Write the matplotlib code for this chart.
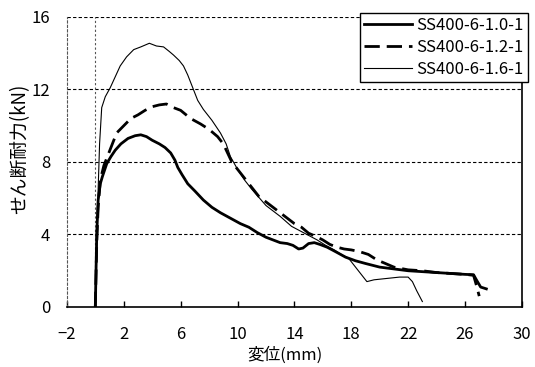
import matplotlib
matplotlib.use("Agg")
import matplotlib.pyplot as plt

plt.rcParams['font.family'] = ['Noto Sans CJK JP', 'DejaVu Sans']

# SS400-6-1.0-1 (thick solid)
x_10 = [0, 0.05, 0.1, 0.2, 0.35, 0.5, 0.8, 1.1, 1.4, 1.8, 2.3, 2.8, 3.2, 3.6, 4.0, 4.5,
        4.9, 5.3, 5.6, 5.8, 6.1, 6.5, 7.0, 7.6, 8.2, 8.8, 9.5, 10.2, 10.8, 11.4, 12.0,
        12.5, 13.0, 13.5, 13.9, 14.3, 14.6, 15.0, 15.4, 15.8, 16.3, 16.9, 17.6, 18.3,
        19.0, 20.0, 21.0, 22.0, 23.0, 24.0, 25.0, 26.0, 26.6, 26.8, 27.1, 27.5]
y_10 = [0, 2.0, 4.0, 5.9, 6.8, 7.2, 7.9, 8.3, 8.65, 9.0, 9.3, 9.45, 9.5, 9.4, 9.2, 9.0,
        8.8, 8.5, 8.1, 7.7, 7.3, 6.8, 6.4, 5.9, 5.5, 5.2, 4.9, 4.6, 4.4, 4.1, 3.85,
        3.7, 3.55, 3.5, 3.4, 3.2, 3.25, 3.5, 3.55, 3.45, 3.3, 3.05, 2.75, 2.55,
        2.4, 2.2, 2.1, 2.0, 1.95, 1.9, 1.85, 1.8, 1.78, 1.5, 1.1, 1.0]

# SS400-6-1.2-1 (dashed)
x_12 = [0, 0.1, 0.2, 0.35, 0.6, 1.0, 1.5, 2.0, 2.5, 3.0, 3.5, 4.0, 4.5, 5.0, 5.5, 6.0,
        6.7, 7.4, 8.0, 8.6, 9.0, 9.3, 9.6, 10.0, 10.5, 11.0, 11.5, 12.0, 12.5, 13.0,
        13.5, 14.0, 14.5, 15.0, 15.5, 16.0, 16.5, 17.0, 17.5, 18.0, 18.6, 19.2, 19.8,
        20.4, 21.0, 22.0, 23.0, 24.0, 25.0, 26.0, 26.6, 26.8, 27.0]
y_12 = [0, 3.5, 5.5, 7.0, 7.8, 8.6, 9.6, 10.0, 10.4, 10.6, 10.85, 11.05, 11.15, 11.2, 11.0, 10.85,
        10.4, 10.1, 9.8, 9.4, 9.0, 8.5, 8.0, 7.6, 7.1, 6.6, 6.1, 5.8, 5.5, 5.2,
        4.9, 4.6, 4.4, 4.07, 3.9, 3.7, 3.45, 3.3, 3.2, 3.15, 3.05, 2.9, 2.6,
        2.4, 2.2, 2.05, 2.0, 1.9, 1.85, 1.8, 1.75, 1.2, 0.6]

# SS400-6-1.6-1 (thin solid)
x_16 = [0, 0.1, 0.2, 0.3, 0.45, 0.7, 1.05, 1.4, 1.75, 2.2, 2.7, 3.2, 3.8, 4.3, 4.8, 5.2,
        5.5, 5.9, 6.2, 6.5, 6.85, 7.2, 7.6, 8.2, 8.8, 9.2, 9.5, 10.0, 10.5, 11.0, 11.5,
        12.0, 12.5, 13.0, 13.8, 14.4, 15.0, 15.6, 16.2, 16.8, 17.4, 17.8, 18.3, 18.7,
        19.1, 19.6, 20.2, 20.8, 21.4, 22.0, 22.3, 22.6, 23.0]
y_16 = [0, 3.0, 6.5, 9.0, 11.0, 11.6, 12.1, 12.7, 13.3, 13.8, 14.2, 14.35, 14.55, 14.4, 14.35, 14.1,
        13.9, 13.6, 13.3, 12.8, 12.1, 11.4, 10.9, 10.3, 9.6, 9.0, 8.3, 7.6, 7.0, 6.5, 6.05,
        5.6, 5.3, 5.0, 4.45, 4.2, 3.95, 3.7, 3.4, 3.15, 2.85, 2.7, 2.2, 1.8,
        1.4, 1.5, 1.55, 1.6, 1.65, 1.65, 1.4, 0.9, 0.3]

labels = ["SS400-6-1.0-1", "SS400-6-1.2-1", "SS400-6-1.6-1"]
x_ticks = list(range(-2, 31, 4))
y_ticks = [0, 4, 8, 12, 16]

fig = plt.figure(figsize=(5.35, 3.67), dpi=100)
ax = fig.add_axes([0.125, 0.1635, 0.8505, 0.7902])

ax.plot(x_10, y_10, color="black", lw=2.0, label=labels[0])
ax.plot(x_12, y_12, color="black", lw=2.0, dashes=(5.5, 2.5), label=labels[1])
ax.plot(x_16, y_16, color="black", lw=0.8, label=labels[2])

ax.set_xlim(-2, 30)
ax.set_ylim(0, 16)
ax.set_xticks(x_ticks)
ax.set_yticks(y_ticks)
ax.set_xticklabels([str(t).replace("-", "\u2212") for t in x_ticks])

for yv in y_ticks[1:]:
    ax.axhline(yv, color="black", lw=0.8, ls=(0, (3, 2)), zorder=0)
ax.axvline(0, color="#555555", lw=0.8, ls=(0, (2, 2)), zorder=0)

ax.spines["top"].set_visible(False)
ax.spines["left"].set_color("#555555")
ax.spines["left"].set_linestyle((0, (2, 2)))
ax.spines["left"].set_linewidth(0.8)
ax.spines["bottom"].set_linewidth(1.2)
ax.spines["right"].set_linewidth(1.2)

ax.tick_params(axis="x", direction="in", length=4, width=1, labelsize=12, pad=14)
ax.tick_params(axis="y", length=0, labelsize=12, pad=12)

ax.set_xlabel("変位(mm)", fontsize=12)
ax.set_ylabel("せん断耐力(kN)", fontsize=13.5)
ax.xaxis.set_label_coords(0.479, -0.135)
ax.yaxis.set_label_coords(-0.08, 0.545)

leg = ax.legend(loc="upper right", bbox_to_anchor=(528 / 535, 1 - 13 / 367),
                bbox_transform=fig.transFigure, borderaxespad=0, fancybox=False,
                edgecolor="black", fontsize=12, handlelength=2.9, handletextpad=0.25,
                labelspacing=0.3, borderpad=0.25)
leg.get_frame().set_linewidth(1.0)
leg.get_frame().set_alpha(1)

fig.savefig("out.png", dpi=100)
